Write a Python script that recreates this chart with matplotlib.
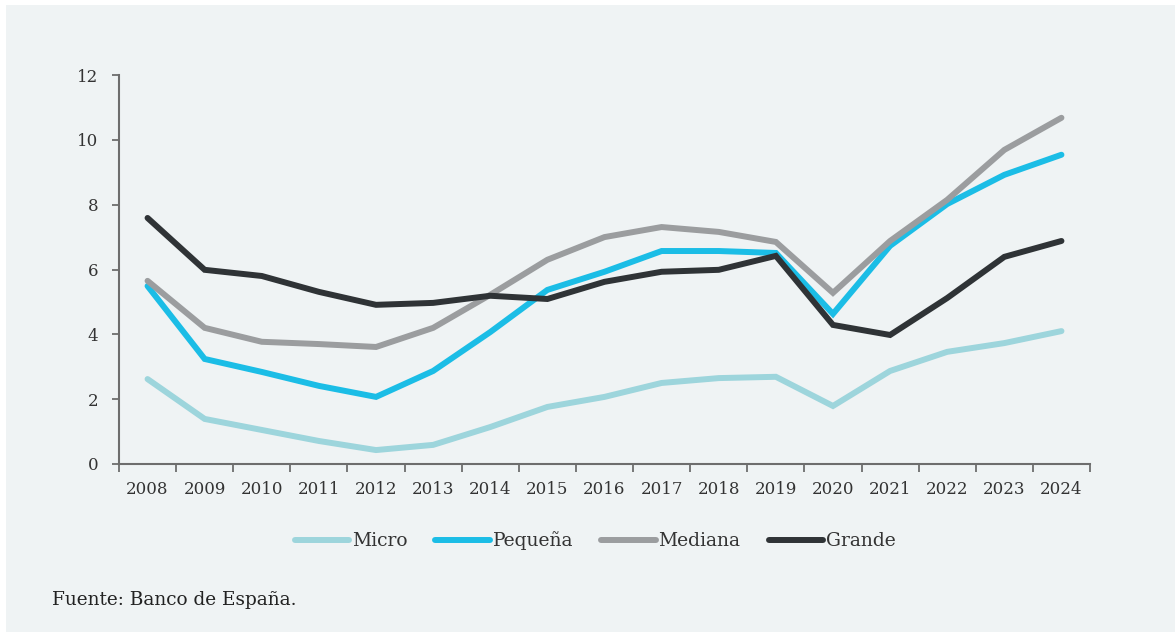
import numpy as np
import matplotlib.pyplot as plt
from matplotlib.patches import Rectangle

plt.rcParams['font.family'] = ['DejaVu Serif']

# Series by company size, 2008-2024
years = [str(y) for y in range(2008, 2025)]
micro = [2.62, 1.39, 1.05, 0.71, 0.43, 0.59, 1.14, 1.76, 2.07, 2.50, 2.65, 2.69, 1.79, 2.87, 3.46, 3.73, 4.10]
pequena = [5.49, 3.24, 2.84, 2.41, 2.07, 2.87, 4.07, 5.37, 5.93, 6.57, 6.57, 6.51, 4.63, 6.73, 8.02, 8.92, 9.54]
mediana = [5.65, 4.20, 3.77, 3.70, 3.61, 4.20, 5.22, 6.30, 7.00, 7.31, 7.16, 6.85, 5.28, 6.88, 8.15, 9.69, 10.68]
grande = [7.59, 5.99, 5.80, 5.31, 4.91, 4.97, 5.19, 5.09, 5.62, 5.93, 5.99, 6.42, 4.29, 3.98, 5.12, 6.39, 6.88]

series = [
    ('Micro', micro, '#9dd5dc'),
    ('Pequeña', pequena, '#1bbde6'),
    ('Mediana', mediana, '#9b9d9f'),
    ('Grande', grande, '#2f3336'),
]

bg = '#eff3f4'
axis_col = '#6d6d6d'
text_col = '#333333'

fig = plt.figure(figsize=(11.75, 6.32), dpi=100)
fig.patch.set_facecolor('white')
fig.patches.append(Rectangle((6 / 1175, 0), 1, 1 - 5 / 632, transform=fig.transFigure,
                             facecolor=bg, edgecolor='none', zorder=-10))

ax = fig.add_axes([119 / 1175, 1 - 464 / 632, (1090 - 119) / 1175, (464 - 75) / 632])
ax.set_facecolor('none')

x = np.arange(len(years))
for name, vals, col in series:
    ax.plot(x, vals, color=col, lw=4.3, label=name, solid_capstyle='round',
            solid_joinstyle='miter')

ax.set_xlim(-0.5, len(years) - 0.5)
ax.set_ylim(0, 12)
ax.set_yticks(range(0, 13, 2))
ax.set_xticks(x)
ax.set_xticklabels(years)
ax.set_xticks(np.arange(-0.5, len(years), 1), minor=True)

for s in ['top', 'right']:
    ax.spines[s].set_visible(False)
for s in ['left', 'bottom']:
    ax.spines[s].set_color(axis_col)
    ax.spines[s].set_linewidth(1.5)

ax.tick_params(axis='x', which='major', length=0, pad=12, labelsize=12, labelcolor=text_col)
ax.tick_params(axis='x', which='minor', length=6, width=1.3, color=axis_col)
ax.tick_params(axis='y', length=5, width=1.3, color=axis_col, pad=10,
               labelsize=12, labelcolor=text_col)

leg = fig.legend(loc='center', bbox_to_anchor=(595 / 1175, 1 - 541 / 632), ncol=4,
                 frameon=False, fontsize=13.5, handlelength=2.9, handletextpad=0.15,
                 columnspacing=1.5)
for t in leg.get_texts():
    t.set_color(text_col)

fig.text(52 / 1175, 1 - 600 / 632, 'Fuente: Banco de España.', fontsize=13.3,
         color='#222222', va='center', ha='left')

fig.savefig('out.png', dpi=100, facecolor=fig.get_facecolor())
